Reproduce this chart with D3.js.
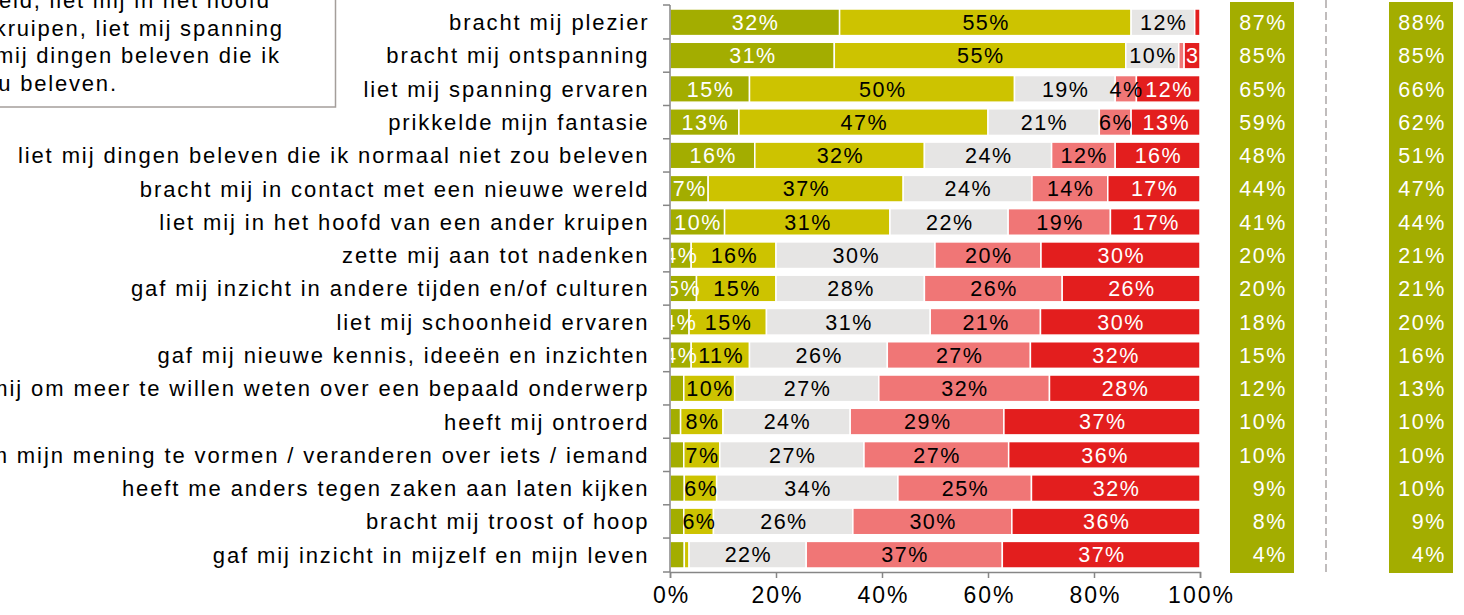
<!DOCTYPE html>
<html>
<head>
<meta charset="utf-8">
<script src="https://cdn.jsdelivr.net/npm/d3@7"></script>
<style>
  body { margin: 0; background: #fff; }
  text { font-family: "Liberation Sans", Arial, sans-serif; }
</style>
</head>
<body>
<script>
// stellingen (van boven naar onder)
const stellingen = [
  "bracht mij plezier",
  "bracht mij ontspanning",
  "liet mij spanning ervaren",
  "prikkelde mijn fantasie",
  "liet mij dingen beleven die ik normaal niet zou beleven",
  "bracht mij in contact met een nieuwe wereld",
  "liet mij in het hoofd van een ander kruipen",
  "zette mij aan tot nadenken",
  "gaf mij inzicht in andere tijden en/of culturen",
  "liet mij schoonheid ervaren",
  "gaf mij nieuwe kennis, ideeën en inzichten",
  "prikkelde mij om meer te willen weten over een bepaald onderwerp",
  "heeft mij ontroerd",
  "hielp mij om mijn mening te vormen / veranderen over iets / iemand",
  "heeft me anders tegen zaken aan laten kijken",
  "bracht mij troost of hoop",
  "gaf mij inzicht in mijzelf en mijn leven"
];

// antwoorden in procenten
const heelErgMee   = [32, 31, 15, 13, 16, 7.2, 10.3, 4, 5, 3.6, 4, 2.6, 2, 2.6, 2.7, 2.6, 2.7];
const mee          = [55, 55, 50, 47, 32, 36.8, 31.2, 16, 15, 14.6, 11, 9.6, 8, 6.8, 6.1, 5.6, 0.9];
const neutraal     = [12, 10, 19, 21, 24, 24.3, 22.3, 30, 28, 30.9, 26, 27.2, 24, 27.2, 34.2, 26.3, 22.1];
const nietMee      = [0, 1, 4, 6, 12, 14.3, 19.3, 20, 26, 20.8, 27, 32.2, 29, 27.3, 25.2, 30, 37];
const helemaalNiet = [1, 3, 12, 13, 16, 17.4, 16.9, 30, 26, 30.1, 32, 28.4, 37, 36.1, 31.8, 35.5, 37.3];

// totalen rechts
const totaalA = [87, 85, 65, 59, 48, 44, 41, 20, 20, 18, 15, 12, 10, 10, 9, 8, 4];
const totaalB = [88, 85, 66, 62, 51, 47, 44, 21, 21, 20, 16, 13, 10, 10, 10, 9, 4];

const xTicks = [0, 20, 40, 60, 80, 100];

const reeksen = [heelErgMee, mee, neutraal, nietMee, helemaalNiet];
const kleuren = ["#a3ad00", "#cdc300", "#e6e5e4", "#f07676", "#e31e1e"];
const tekstKleuren = ["#fff", "#000", "#000", "#000", "#fff"];

// tekstvak linksboven (valt links buiten beeld)
const kaderRegels = [
  "een nieuwe wereld, liet mij in het hoofd",
  "van een ander kruipen, liet mij spanning",
  "ervaren, liet mij dingen beleven die ik",
  "normaal niet zou beleven."
];
const kaderEinden = [269, 282, 279, 116];

const svg = d3.select("body").append("svg")
  .attr("width", 1464)
  .attr("height", 615);

const x = d3.scaleLinear().domain([0, 100]).range([670, 1200]);
const y = d3.scaleBand().domain(stellingen).range([5, 572])
  .paddingInner(0.2).paddingOuter(0.12);

// tekstvak
svg.append("rect")
  .attr("x", -20).attr("y", -20)
  .attr("width", 355.5).attr("height", 127)
  .attr("fill", "#fff")
  .attr("stroke", "#a49e9b")
  .attr("stroke-width", 1.5);

svg.append("g").selectAll("text")
  .data(kaderRegels)
  .join("text")
  .attr("x", (d, i) => kaderEinden[i] + 1.8)
  .attr("y", (d, i) => 8 + i * 27.7)
  .attr("text-anchor", "end")
  .attr("font-size", 22)
  .attr("letter-spacing", 1.8)
  .attr("fill", "#000")
  .text(d => d);

// gestapelde data
const rijen = stellingen.map((s, i) => {
  let start = 0;
  return reeksen.map((r, k) => {
    const seg = { stelling: s, k: k, x0: start, x1: start + r[i], v: r[i] };
    start += r[i];
    return seg;
  });
}).flat();

svg.append("g").selectAll("rect")
  .data(rijen.filter(d => d.v > 0))
  .join("rect")
  .attr("x", d => x(d.x0))
  .attr("y", d => y(d.stelling))
  .attr("width", d => Math.max(0, Math.min(x(d.x1), 1200) - x(d.x0)))
  .attr("height", y.bandwidth())
  .attr("fill", d => kleuren[d.k])
  .attr("stroke", "#fff")
  .attr("stroke-width", 1.5);

// labels in de balken, geknipt op het plotgebied
svg.append("clipPath").attr("id", "plot")
  .append("rect").attr("x", 668).attr("y", 0).attr("width", 532).attr("height", 580);

const labels = svg.append("g").attr("clip-path", "url(#plot)")
  .selectAll("text")
  .data(rijen.filter(d => d.v >= 3))
  .join("text")
  .attr("x", d => x((d.x0 + d.x1) / 2) + 0.8)
  .attr("y", d => y(d.stelling) + y.bandwidth() / 2)
  .attr("dy", "0.36em")
  .attr("text-anchor", "middle")
  .attr("font-size", 21.5)
  .attr("letter-spacing", 1.5)
  .attr("fill", d => tekstKleuren[d.k])
  .text(d => Math.round(d.v) + "%");

// label dat over de rechterrand zou vallen: links in het segment zetten
labels.each(function(d) {
  const b = this.getBBox();
  if (b.x + b.width > 1201) {
    d3.select(this).attr("text-anchor", "start").attr("x", x(d.x0) + 2);
  }
});

// y-as
const asKleur = "#868686";
svg.append("line")
  .attr("x1", 670).attr("x2", 670)
  .attr("y1", 5).attr("y2", 572)
  .attr("stroke", asKleur).attr("stroke-width", 1.5);

const grenzen = stellingen.map(s => y(s) - y.step() * y.paddingInner() / 2);
grenzen[0] = 5;
grenzen.push(572);
svg.append("g").selectAll("line")
  .data(grenzen)
  .join("line")
  .attr("x1", 663).attr("x2", 670)
  .attr("y1", d => d).attr("y2", d => d)
  .attr("stroke", asKleur).attr("stroke-width", 1.5);

svg.append("g").selectAll("text")
  .data(stellingen)
  .join("text")
  .attr("x", 649.5)
  .attr("y", d => y(d) + y.bandwidth() / 2)
  .attr("dy", "0.36em")
  .attr("text-anchor", "end")
  .attr("font-size", 22)
  .attr("letter-spacing", 1.9)
  .attr("fill", "#000")
  .text(d => d);

// x-as
const xAs = svg.append("g")
  .attr("transform", "translate(0,572)")
  .call(d3.axisBottom(x).tickValues(xTicks).tickFormat(d => d + "%").tickSize(6).tickPadding(9));
xAs.select(".domain").attr("stroke", asKleur).attr("stroke-width", 1.5);
xAs.selectAll(".tick line").attr("stroke", asKleur).attr("stroke-width", 1.5);
xAs.selectAll(".tick text")
  .attr("font-size", 23)
  .attr("letter-spacing", 2)
  .attr("dx", 1)
  .attr("font-family", "Liberation Sans, Arial, sans-serif")
  .attr("fill", "#000");

// stippellijn tussen de kolommen
svg.append("line")
  .attr("x1", 1326).attr("x2", 1326)
  .attr("y1", 0).attr("y2", 573)
  .attr("stroke", "#c0bcbc")
  .attr("stroke-width", 2)
  .attr("stroke-dasharray", "8,4");

// totaalkolommen
[[totaalA, 1230], [totaalB, 1389]].forEach(([waarden, links]) => {
  svg.append("rect")
    .attr("x", links).attr("y", 2)
    .attr("width", 64).attr("height", 571)
    .attr("fill", kleuren[0]);
  svg.append("g").selectAll("text")
    .data(waarden)
    .join("text")
    .attr("x", links + 57)
    .attr("y", (d, i) => y(stellingen[i]) + y.bandwidth() / 2)
    .attr("dy", "0.36em")
    .attr("text-anchor", "end")
    .attr("font-size", 21.5)
    .attr("letter-spacing", 1.6)
    .attr("fill", "#fff")
    .text(d => d + "%");
});
</script>
</body>
</html>
